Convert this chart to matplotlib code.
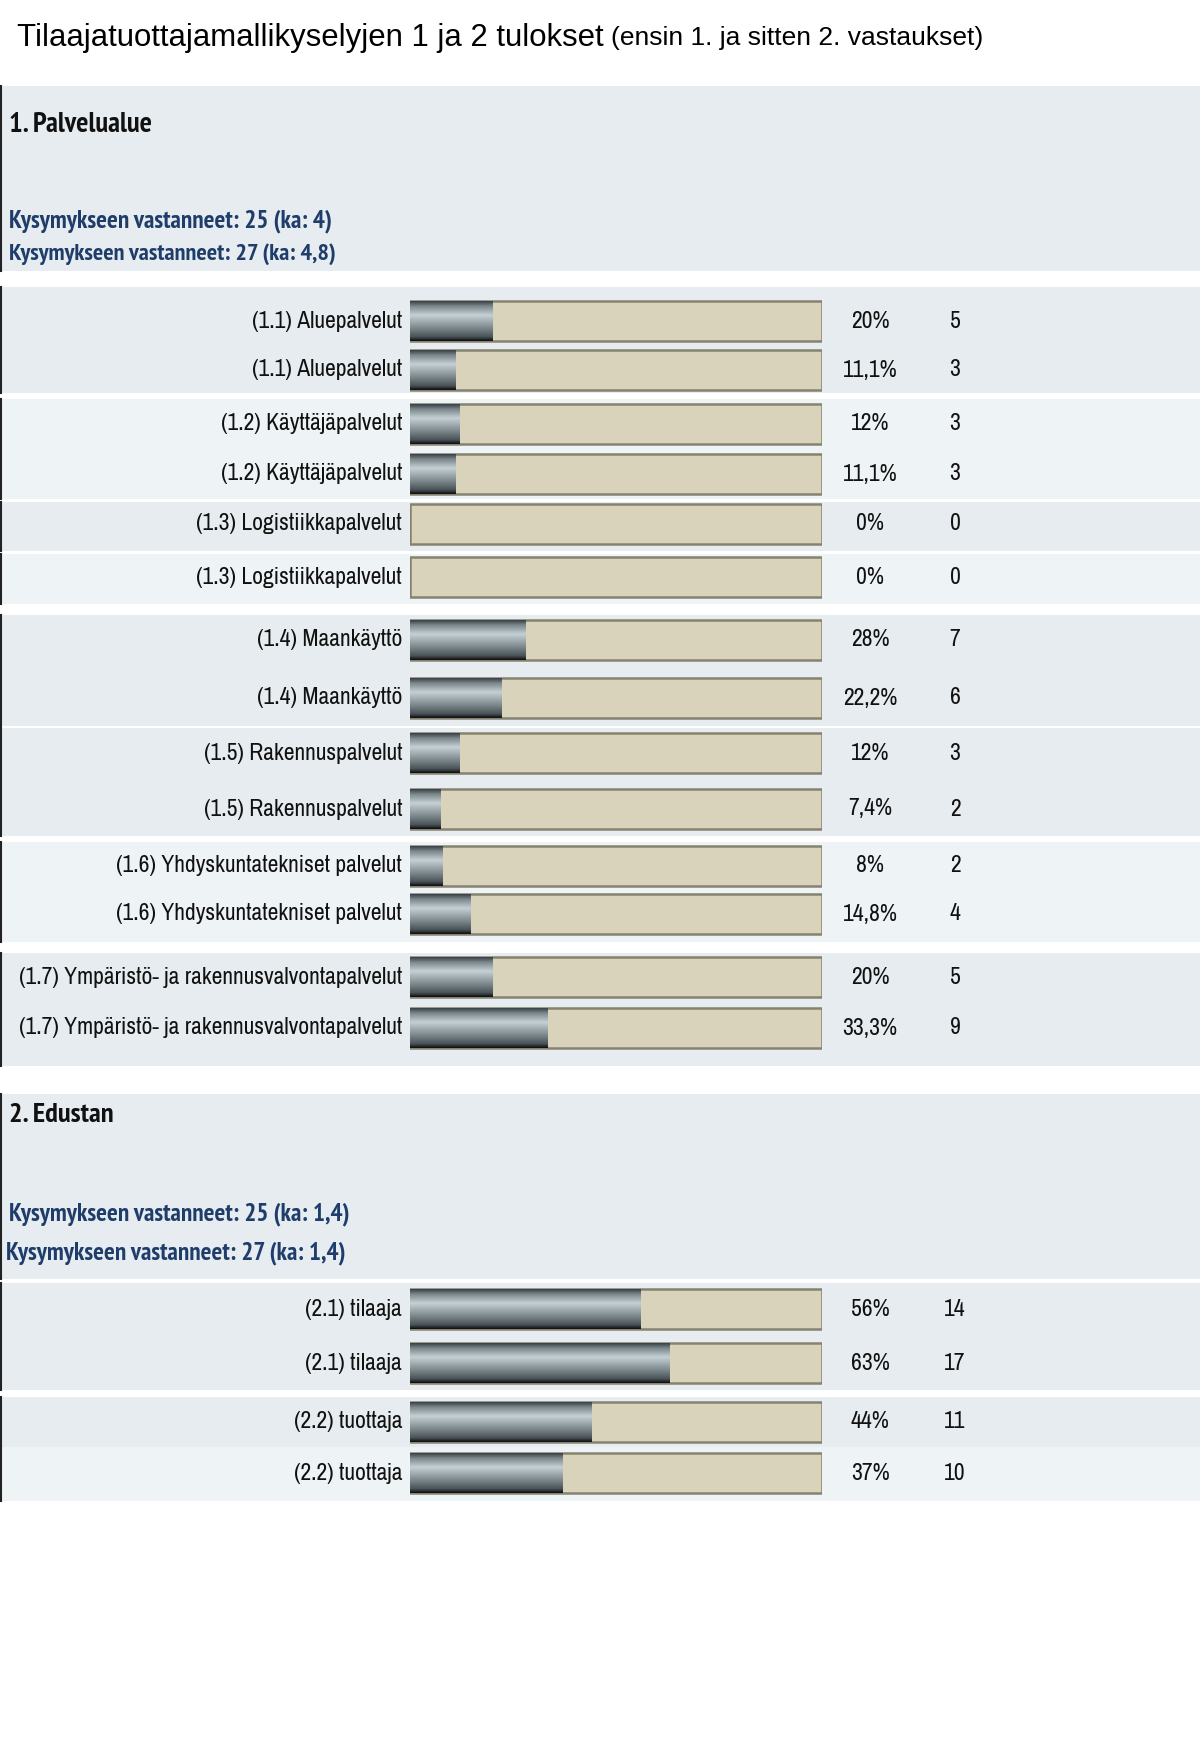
import matplotlib
matplotlib.use("Agg")
import matplotlib.pyplot as plt
import numpy as np
from matplotlib import font_manager
from matplotlib.colors import LinearSegmentedColormap

# ---- data ----
labels1 = ["(1.1) Aluepalvelut", "(1.1) Aluepalvelut",
           "(1.2) Käyttäjäpalvelut", "(1.2) Käyttäjäpalvelut",
           "(1.3) Logistiikkapalvelut", "(1.3) Logistiikkapalvelut",
           "(1.4) Maankäyttö", "(1.4) Maankäyttö",
           "(1.5) Rakennuspalvelut", "(1.5) Rakennuspalvelut",
           "(1.6) Yhdyskuntatekniset palvelut", "(1.6) Yhdyskuntatekniset palvelut",
           "(1.7) Ympäristö- ja rakennusvalvontapalvelut",
           "(1.7) Ympäristö- ja rakennusvalvontapalvelut"]
pct1 = [20, 11.1, 12, 11.1, 0, 0, 28, 22.2, 12, 7.4, 8, 14.8, 20, 33.3]
counts1 = [5, 3, 3, 3, 0, 0, 7, 6, 3, 2, 2, 4, 5, 9]

labels2 = ["(2.1) tilaaja", "(2.1) tilaaja", "(2.2) tuottaja", "(2.2) tuottaja"]
pct2 = [56, 63, 44, 37]
counts2 = [14, 17, 11, 10]

title = "Tilaajatuottajamallikyselyjen 1 ja 2 tulokset"
subtitle = "(ensin 1. ja sitten 2. vastaukset)"
sections = ["1. Palvelualue", "2. Edustan"]
answered1 = ["Kysymykseen vastanneet: 25 (ka: 4)", "Kysymykseen vastanneet: 27 (ka: 4,8)"]
answered2 = ["Kysymykseen vastanneet: 25 (ka: 1,4)", "Kysymykseen vastanneet: 27 (ka: 1,4)"]

# ---- layout (pixels, top-down) ----
W, H = 1202, 1737
rows_y1 = [321, 370, 424, 474, 524, 577, 640, 698, 753, 809, 866, 914, 977, 1028]
rows_y2 = [1309, 1363, 1422, 1473]
bar_h = 40
bar_x0, bar_x1 = 410, 822

dark_bg = "#e6ecef"
light_bg = "#eef3f6"
bands = [(86, 271, dark_bg),
         (287, 393, dark_bg), (399, 499, light_bg),
         (502, 551, dark_bg), (554, 604, light_bg),
         (615, 726, dark_bg), (728, 836, dark_bg),
         (842, 942, light_bg), (953, 1066, dark_bg),
         (1094, 1279, dark_bg), (1283, 1390, dark_bg),
         (1397, 1447, dark_bg), (1447, 1501, light_bg)]


def weight_num(w):
    if isinstance(w, int):
        return w
    return {"light": 300, "normal": 400, "regular": 400, "medium": 500,
            "semibold": 600, "bold": 700, "heavy": 800}.get(str(w), 400)


def find_condensed(target):
    # pick an installed narrow / condensed sans face near the wanted weight
    best, best_score = None, None
    for f in font_manager.fontManager.ttflist:
        name = f.name.lower()
        narrowish = ("narrow" in name or "condensed" in name
                     or "condensed" in str(f.stretch))
        if not narrowish or "mono" in name or f.style != "normal":
            continue
        score = abs(weight_num(f.weight) - target)
        if "narrow" in name:
            score -= 50
        if best_score is None or score < best_score:
            best, best_score = f, score
    return best


reg = find_condensed(400)
bld = find_condensed(700)
if reg is not None:
    lab_fp = dict(fontproperties=font_manager.FontProperties(fname=reg.fname))
    lab_size = 17
else:
    lab_fp = dict(family=["Liberation Sans", "DejaVu Sans"])
    lab_size = 14
if bld is not None:
    head_fp = dict(fontproperties=font_manager.FontProperties(fname=bld.fname))
    head_scale = 1.0
else:
    head_fp = dict(family=["Liberation Sans", "DejaVu Sans"], weight="bold")
    head_scale = 0.8
plain = ["Liberation Sans", "DejaVu Sans"]

fig = plt.figure(figsize=(W / 100, H / 100), dpi=100)
ax = fig.add_axes([0, 0, 1, 1])
ax.set_xlim(0, W)
ax.set_ylim(H, 0)
ax.axis("off")

for top, bot, col in bands:
    ax.axhspan(top, bot, xmin=0, xmax=1200 / W, color=col, lw=0)
    ax.plot([1, 1], [top, bot], color="#222222", lw=1.5)


def put(x, y, s, size, fp, **kw):
    t = ax.text(x, y, s, va="center", **fp, **kw)
    t.set_fontsize(size)
    return t


ax.text(17, 38, title, fontsize=22.4, family=plain, va="center", ha="left")
ax.text(611, 38, subtitle, fontsize=19, family=plain, va="center", ha="left")

put(9, 125, sections[0], 20.6 * head_scale, head_fp, color="#111111")
put(9, 221, answered1[0], 18.2 * head_scale, head_fp, color="#1f3d6b")
put(9, 254, answered1[1], 17.6 * head_scale, head_fp, color="#1f3d6b")
put(9, 1115, sections[1], 20.5 * head_scale, head_fp, color="#111111")
put(9, 1214, answered2[0], 18.2 * head_scale, head_fp, color="#1f3d6b")
put(6, 1253, answered2[1], 18.2 * head_scale, head_fp, color="#1f3d6b")

# bar axes: percent scale 0..100 across the bar column
bax = fig.add_axes([bar_x0 / W, 0, (bar_x1 - bar_x0) / W, 1])
bax.axis("off")

grad = LinearSegmentedColormap.from_list("steel", [
    (0.0, "#3a4246"), (0.12, "#7b878c"), (0.35, "#c4d0d4"), (0.5, "#a3afb3"),
    (0.75, "#6c777b"), (0.9, "#4a5357"), (1.0, "#0e1012")])
gimg = np.linspace(0, 1, 64).reshape(-1, 1)


def fmt_pct(p):
    return ("%g" % p).replace(".", ",") + "%"


def draw_rows(labels, pcts, counts, ys):
    bax.barh(ys, [100] * len(ys), height=bar_h, color="#d8d3ba",
             edgecolor="#85826f", lw=1.8, zorder=1)
    bars = bax.barh(ys, pcts, height=bar_h, color="#6c777b", lw=0, zorder=2)
    for rect, y, p in zip(bars, ys, pcts):
        if p <= 0:
            continue
        im = bax.imshow(gimg, cmap=grad, aspect="auto", zorder=3,
                        extent=(0, p, y + bar_h / 2, y - bar_h / 2))
        im.set_clip_path(rect)
    for lab, p, c, y in zip(labels, pcts, counts, ys):
        put(402, y, lab, lab_size, lab_fp, ha="right", color="#111111")
        put(870, y, fmt_pct(p), lab_size, lab_fp, ha="center", color="#111111")
        put(955, y, str(c), lab_size, lab_fp, ha="center", color="#111111")


draw_rows(labels1, pct1, counts1, rows_y1)
draw_rows(labels2, pct2, counts2, rows_y2)

bax.set_xlim(0, 100)
bax.set_ylim(H, 0)

fig.savefig("out.png", dpi=100)
